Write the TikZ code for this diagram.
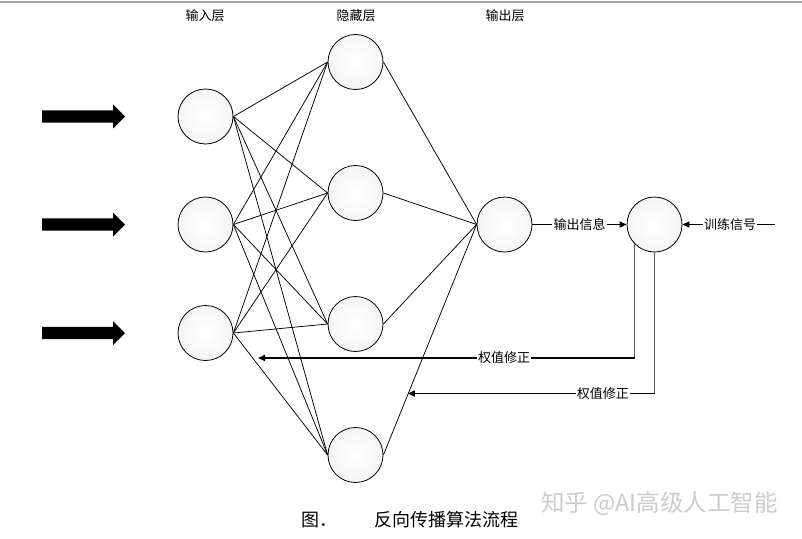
\documentclass[tikz,border=0pt]{standalone}
\usepackage{fontspec}
\newfontfamily\cjk{Noto Sans CJK SC}
\usetikzlibrary{arrows.meta}
\begin{document}
\begin{tikzpicture}[x=1pt,y=-1pt,
  neuron/.style={circle,draw,line width=0.8pt,minimum size=55pt,inner sep=0pt,
                 inner color=white,outer color=gray!8},
  link/.style={line width=0.75pt},
  lbl/.style={font=\cjk\fontsize{13}{13}\selectfont,inner sep=1.2pt},
  onlbl/.style={lbl,fill=white},
  sig/.style={line width=1.6pt,-{Triangle[length=7pt,width=6pt]}},
  fbv/.style={line width=1pt,gray!75!black},
  capt/.style={font=\cjk\fontsize{18}{18}\selectfont,inner sep=0pt,anchor=west},
  wmark/.style={font=\cjk\fontsize{23.5}{23.5}\selectfont,inner sep=0pt,anchor=west,text=gray!40},
  bigarrow/.pic={\fill (-41.5,-6.2)--(29.5,-6.2)--(29.5,-12)--(41.5,0)--(29.5,12)--(29.5,6.2)--(-41.5,6.2)--cycle;}
]
\useasboundingbox (0,0) rectangle (802,538);
\fill[white] (0,0) rectangle (802,538);
\draw[gray!70,line width=2pt] (0,2) -- (802,2);

% layer titles
\node[lbl] (tin)  at (205,16) {输入层};
\node[lbl] (thid) at (356,16) {隐藏层};
\node[lbl] (tout) at (505,16) {输出层};

% input arrows
\pic at (83.5,116.5) {bigarrow};
\pic at (83.5,224.5) {bigarrow};
\pic at (83.5,333) {bigarrow};

% neurons
\node[neuron] (i1) at (205.5,116.5) {};
\node[neuron] (i2) at (205.5,224.5) {};
\node[neuron] (i3) at (205.5,333) {};
\node[neuron] (h1) at (355.5,62) {};
\node[neuron] (h2) at (355.5,193) {};
\node[neuron] (h3) at (355.5,324) {};
\node[neuron] (h4) at (355.5,455) {};
\node[neuron] (o)  at (504.5,224.5) {};
\node[neuron] (r)  at (654.5,224.5) {};

% connections
\foreach \a in {i1,i2,i3}{
  \foreach \b in {h1,h2,h3,h4}{
    \draw[link] (\a.east) -- (\b.west);
  }
}
\foreach \b in {h1,h2,h3,h4}{
  \draw[link] (\b.east) -- (o.west);
}

% output info and training signal
\coordinate (ts) at (775,224.5);
\draw[sig] (o.east) -- node[onlbl] {输出信息} (r.west);
\draw[sig] (ts) -- node[onlbl,xshift=1.5pt] {训练信号} (r.east);

% weight correction feedback
\coordinate (t1) at (258,358);
\coordinate (t2) at (407.8,393.5);
\draw[fbv] (r.225) -- (r.225 |- t1);
\draw[sig] (r.225 |- t1) -- node[onlbl,pos=0.347] {权值修正} (t1);
\draw[fbv] (r.south) -- (r.south |- t2);
\draw[sig] (r.south |- t2) -- node[onlbl,pos=0.209] {权值修正} (t2);

% caption and watermark
\node[capt] (c1) at (301,520) {图．};
\node[capt] (c2) at (374,520) {反向传播算法流程};
\node[wmark] (w) at (541,504) {知乎 @AI高级人工智能};
\end{tikzpicture}
\end{document}
